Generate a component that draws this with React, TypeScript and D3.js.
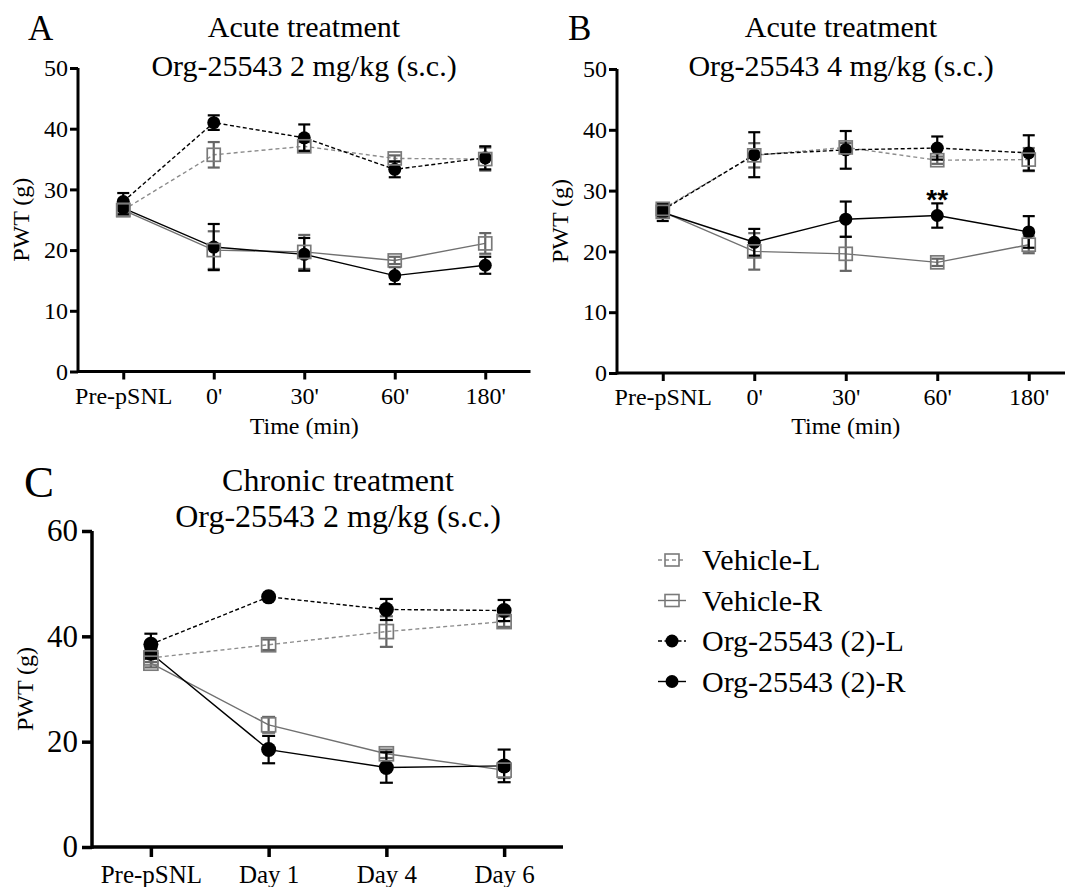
import React, { useEffect, useRef } from "react";
import * as d3 from "d3";

const acuteTimes = ["Pre-pSNL", "0'", "30'", "60'", "180'"];
const chronicDays = ["Pre-pSNL", "Day 1", "Day 4", "Day 6"];
const groupNames = ["Vehicle-L", "Vehicle-R", "Org-25543 (2)-L", "Org-25543 (2)-R"];
const acuteTicks = [0, 10, 20, 30, 40, 50];
const chronicTicks = [0, 20, 40, 60];

// A: acute, 2 mg/kg (mean, SEM)
const aVehicleL = [26.6, 35.7, 37.1, 35.1, 35.0];
const aVehicleLSem = [0.8, 2.1, 0.7, 0.5, 1.9];
const aVehicleR = [26.6, 20.0, 19.7, 18.3, 21.1];
const aVehicleRSem = [0.8, 3.1, 2.8, 0.6, 1.7];
const aOrgL = [28.0, 41.0, 38.5, 33.3, 35.2];
const aOrgLSem = [1.4, 1.2, 2.2, 1.3, 1.9];
const aOrgR = [26.9, 20.5, 19.3, 15.8, 17.5];
const aOrgRSem = [1.0, 3.8, 2.7, 1.4, 1.4];

// B: acute, 4 mg/kg
const bVehicleL = [27.0, 35.8, 37.1, 35.0, 35.1];
const bVehicleLSem = [0.8, 2.0, 0.7, 0.6, 1.9];
const bVehicleR = [26.5, 20.0, 19.6, 18.2, 21.1];
const bVehicleRSem = [0.8, 3.0, 2.8, 0.6, 1.4];
const bOrgL = [26.8, 35.9, 36.7, 37.0, 36.2];
const bOrgLSem = [1.0, 3.7, 3.1, 1.9, 2.9];
const bOrgR = [26.4, 21.5, 25.3, 25.9, 23.2];
const bOrgRSem = [1.4, 2.2, 2.9, 2.0, 2.6];

// C: chronic, 2 mg/kg
const cVehicleL = [35.9, 38.4, 40.9, 42.8];
const cVehicleLSem = [0.8, 1.0, 2.9, 1.0];
const cVehicleR = [34.9, 23.2, 17.7, 14.6];
const cVehicleRSem = [0.8, 1.5, 0.8, 1.5];
const cOrgL = [38.5, 47.5, 45.1, 44.9];
const cOrgLSem = [2.0, 0.4, 2.0, 2.0];
const cOrgR = [36.8, 18.5, 15.1, 15.4];
const cOrgRSem = [1.0, 2.6, 2.9, 3.1];

const look: any = {
  "Vehicle-L": { line: "#8c8c8c", bar: "#666666", dash: "4,3", shape: "square" },
  "Vehicle-R": { line: "#707070", bar: "#666666", dash: null, shape: "square" },
  "Org-25543 (2)-L": { line: "#000000", bar: "#000000", dash: "4,2.5", shape: "circle" },
  "Org-25543 (2)-R": { line: "#000000", bar: "#000000", dash: null, shape: "circle" },
};

const serif = "Liberation Serif";

function drawPanel(root: any, p: any) {
  const g = root.append("g");
  const x = d3.scalePoint().domain(p.cats).range([p.x0, p.x1]).padding(0.5);
  const y = d3.scaleLinear().domain([0, p.yMax]).range([p.yBottom, p.yTop]);

  // axes
  const ya = g.append("g")
    .attr("transform", `translate(${p.x0},0)`)
    .call(d3.axisLeft(y).tickValues(p.yTicks).tickSize(p.tickLen).tickPadding(p.yPad).tickFormat(d3.format("d")));
  ya.select(".domain").remove();
  ya.selectAll("line").attr("stroke", "#000").attr("stroke-width", p.axisW);
  ya.selectAll("text").attr("font-family", serif).attr("font-size", p.yTickFont).attr("fill", "#000");

  const xa = g.append("g")
    .attr("transform", `translate(0,${p.yBottom})`)
    .call(d3.axisBottom(x).tickSize(p.tickLen).tickPadding(p.xPad));
  xa.select(".domain").remove();
  xa.selectAll("line").attr("stroke", "#000").attr("stroke-width", p.axisW);
  xa.selectAll("text").attr("font-family", serif).attr("font-size", p.xTickFont).attr("fill", "#000");

  g.append("line")
    .attr("x1", p.x0).attr("x2", p.x0)
    .attr("y1", p.yBottom + p.axisW / 2).attr("y2", p.yTop)
    .attr("stroke", "#000").attr("stroke-width", p.axisW);
  g.append("line")
    .attr("x1", p.x0).attr("x2", p.x1)
    .attr("y1", p.yBottom).attr("y2", p.yBottom)
    .attr("stroke", "#000").attr("stroke-width", p.axisW);

  const rows = p.series.map((s: any) => ({
    name: s.name,
    pts: s.mean.map((v: number, i: number) => ({ c: p.cats[i], v, e: s.sem[i] })),
  }));

  const line = d3.line<any>().x(d => x(d.c)!).y(d => y(d.v));
  rows.forEach((r: any) => {
    const st = look[r.name];
    g.append("path")
      .datum(r.pts)
      .attr("d", line)
      .attr("fill", "none")
      .attr("stroke", st.line)
      .attr("stroke-width", 1.4)
      .attr("stroke-dasharray", st.dash);
  });

  rows.forEach((r: any) => {
    const st = look[r.name];
    const eb = g.append("g").attr("stroke", st.bar).attr("stroke-width", 2.2);
    r.pts.forEach((d: any) => {
      const cx = x(d.c)!;
      eb.append("line").attr("x1", cx).attr("x2", cx).attr("y1", y(d.v - d.e)).attr("y2", y(d.v + d.e));
      [d.v - d.e, d.v + d.e].forEach(v => {
        eb.append("line").attr("x1", cx - p.cap).attr("x2", cx + p.cap).attr("y1", y(v)).attr("y2", y(v));
      });
    });
  });

  // circles first, open squares on top
  [...rows].reverse().forEach((r: any) => {
    const st = look[r.name];
    r.pts.forEach((d: any) => {
      if (st.shape === "circle") {
        g.append("circle").attr("cx", x(d.c)!).attr("cy", y(d.v)).attr("r", p.r).attr("fill", "#000");
      } else {
        g.append("rect")
          .attr("x", x(d.c)! - p.sq / 2).attr("y", y(d.v) - p.sq / 2)
          .attr("width", p.sq).attr("height", p.sq)
          .attr("fill", "none").attr("stroke", "#7a7a7a").attr("stroke-width", 1.7);
      }
    });
  });

  // titles
  p.title.forEach((t: string, i: number) => {
    g.append("text").attr("x", p.titleX).attr("y", p.titleY[i])
      .attr("text-anchor", "middle").attr("font-family", serif).attr("font-size", p.titleFont)
      .text(t);
  });
  g.append("text").attr("x", p.letterX).attr("y", p.letterY)
    .attr("font-family", serif).attr("font-size", p.letterFont).text(p.letter);

  g.append("text")
    .attr("transform", `translate(${p.yLabelX},${(p.yBottom + p.yTop) / 2}) rotate(-90)`)
    .attr("text-anchor", "middle").attr("font-family", serif).attr("font-size", p.yLabelFont)
    .text("PWT (g)");

  if (p.xLabel) {
    g.append("text").attr("x", (p.x0 + p.x1) / 2).attr("y", p.xLabelY)
      .attr("text-anchor", "middle").attr("font-family", serif).attr("font-size", 24)
      .text(p.xLabel);
  }
  return { x, y, g };
}

function drawLegend(root: any) {
  const lg = root.append("g");
  groupNames.forEach((name, i) => {
    const st = look[name];
    const cy = 560 + i * 40.5;
    lg.append("line").attr("x1", 658).attr("x2", 686).attr("y1", cy).attr("y2", cy)
      .attr("stroke", st.line).attr("stroke-width", 1.4).attr("stroke-dasharray", st.dash);
    if (st.shape === "circle") {
      lg.append("circle").attr("cx", 672).attr("cy", cy).attr("r", 6.5).attr("fill", "#000");
    } else {
      lg.append("rect").attr("x", 665).attr("y", cy - 6).attr("width", 14).attr("height", 12)
        .attr("fill", "none").attr("stroke", "#7a7a7a").attr("stroke-width", 1.6);
    }
    lg.append("text").attr("x", 702).attr("y", cy + 10)
      .attr("font-family", serif).attr("font-size", 30).text(name);
  });
}

export default function App() {
  const ref = useRef<SVGSVGElement>(null);

  useEffect(() => {
    const svg = d3.select(ref.current);
    svg.selectAll("*").remove();

    const acuteBase = {
      cats: acuteTimes, yMax: 50, yTicks: acuteTicks, yTop: 68, tickLen: 8, yPad: 2, xPad: 7,
      yTickFont: 24, xTickFont: 24, axisW: 3, r: 6.5, sq: 13, cap: 6,
      titleFont: 30, titleY: [37, 76], letterFont: 35, letterY: 40, yLabelFont: 24,
      xLabel: "Time (min)", xLabelY: 434,
    };

    drawPanel(svg, {
      ...acuteBase, x0: 78, x1: 530.5, yBottom: 371.5,
      series: [
        { name: groupNames[0], mean: aVehicleL, sem: aVehicleLSem },
        { name: groupNames[1], mean: aVehicleR, sem: aVehicleRSem },
        { name: groupNames[2], mean: aOrgL, sem: aOrgLSem },
        { name: groupNames[3], mean: aOrgR, sem: aOrgRSem },
      ],
      title: ["Acute treatment", "Org-25543 2 mg/kg (s.c.)"], titleX: 304,
      letter: "A", letterX: 28, yLabelX: 29,
    });

    const b = drawPanel(svg, {
      ...acuteBase, x0: 617, x1: 1074.5, yBottom: 373, yTop: 69,
      series: [
        { name: groupNames[0], mean: bVehicleL, sem: bVehicleLSem },
        { name: groupNames[1], mean: bVehicleR, sem: bVehicleRSem },
        { name: groupNames[2], mean: bOrgL, sem: bOrgLSem },
        { name: groupNames[3], mean: bOrgR, sem: bOrgRSem },
      ],
      title: ["Acute treatment", "Org-25543 4 mg/kg (s.c.)"], titleX: 841,
      letter: "B", letterX: 568, yLabelX: 568,
    });
    b.g.append("text")
      .attr("x", b.x("60'")!).attr("y", b.y(bOrgR[3] + bOrgRSem[3]) + 6)
      .attr("text-anchor", "middle")
      .attr("font-family", "Liberation Sans")
      .attr("font-weight", "bold").attr("font-size", 28)
      .text("**");

    drawPanel(svg, {
      cats: chronicDays, yMax: 60, yTicks: chronicTicks, x0: 92, x1: 563,
      yBottom: 847, yTop: 531, tickLen: 10, yPad: 4, xPad: 8,
      yTickFont: 31, xTickFont: 25, axisW: 3.5, r: 7.5, sq: 14, cap: 6.5,
      series: [
        { name: groupNames[0], mean: cVehicleL, sem: cVehicleLSem },
        { name: groupNames[1], mean: cVehicleR, sem: cVehicleRSem },
        { name: groupNames[2], mean: cOrgL, sem: cOrgLSem },
        { name: groupNames[3], mean: cOrgR, sem: cOrgRSem },
      ],
      title: ["Chronic treatment", "Org-25543 2 mg/kg (s.c.)"], titleX: 338, titleY: [491, 527],
      titleFont: 32, letter: "C", letterX: 24, letterY: 497, letterFont: 45,
      yLabelX: 33, yLabelFont: 24,
    });

    drawLegend(svg);
  }, []);

  return (
    <svg
      ref={ref}
      width={1065}
      height={887}
      style={{ position: "absolute", left: 0, top: 0, background: "#fff" }}
    />
  );
}
